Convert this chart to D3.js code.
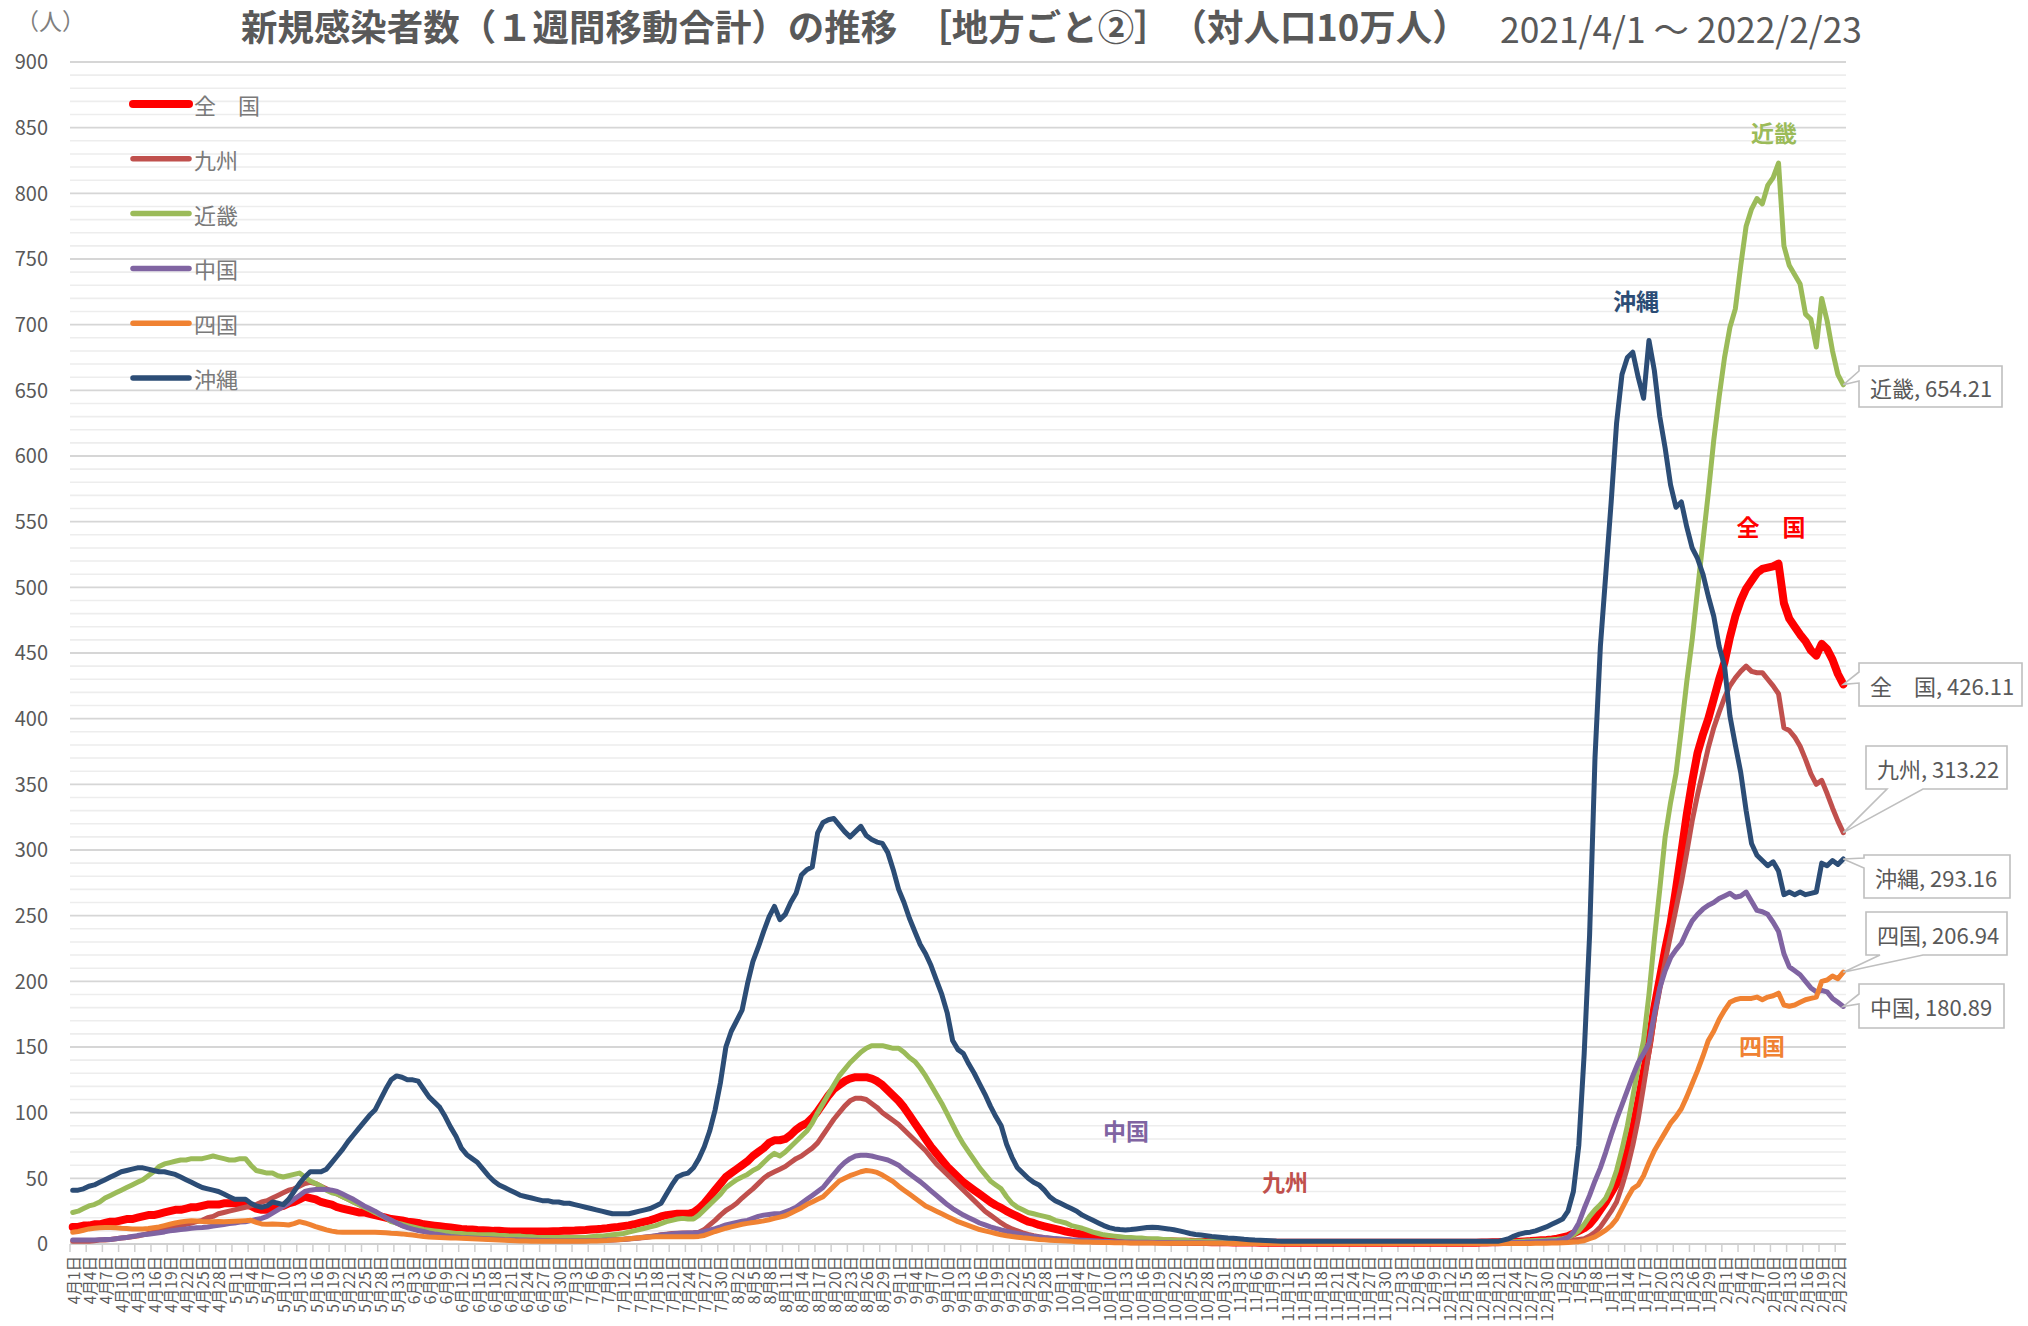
<!DOCTYPE html>
<html><head><meta charset="utf-8">
<script src="https://cdn.jsdelivr.net/npm/d3@7"></script>
<style>
html,body{margin:0;padding:0;background:#fff;}
svg{display:block;font-family:"Noto Sans CJK JP","Noto Sans",sans-serif;}
</style>
</head><body>
<svg id="chart" width="2028" height="1326"></svg>
<script>
// ---------------- DATA ----------------
const startDate = new Date(2021, 3, 1);
const endDate = new Date(2022, 1, 23);
const titleMain = "新規感染者数（１週間移動合計）の推移　［地方ごと②］　（対人口10万人）";
const titleDate = "2021/4/1 〜 2022/2/23";
const unitLabel = "（人）";
const seriesNames = ["全　国", "九州", "近畿", "中国", "四国", "沖縄"];
const yTickValues = [0,50,100,150,200,250,300,350,400,450,500,550,600,650,700,750,800,850,900];

const national = [
 13,13,14,14,15,15,16,17,17,18, 19,19,20,21,22,22,23,24,25,26, 26,27,28,28,29,30,30,30,31,31,
 31,31,30,29,27,26,26,27,28,29, 31,32,34,36,35,34,32,31,30,28, 27,26,25,24,24,23,22,21,20,19, 18.5,
 18,17,16.5,16,15,14.5,14,13.5,13,12.5, 12,11.5,11.2,11,10.7,10.5,10.3,10,10,9.8, 9.6,9.5,9.5,9.5,9.5,9.5,9.5,9.6,9.7,9.8,
 10,10,10.2,10.5,10.7,11,11.3,11.6,12,12.5, 13,13.6,14.2,15,16,17,18,19.5,21,22, 22.5,23,23,23,24,27,31,36,41,46, 51,
 54,57,60,63,67,70,73,77,79,79, 80,83,87,90,92,96,101,107,113,118, 121,124,126,127,127,127,126,124,121,117, 113,
 109,104,98,92,86,80,74,69,64,59, 55,51,47,44,41,38,35,32,29.5,27.5, 25,23,21,19,17,16,14.5,13.5,12.5,11.5,
 10.5,9.5,8.7,8,7.2,6.5,6,5,4.5,4, 3.7,3.4,3.1,2.9,2.7,2.5,2.4,2.3,2.2,2.1, 2,1.9,1.8,1.7,1.7,1.6,1.5,1.5,1.4,1.4, 1.3,
 1.3,1.2,1.2,1.1,1.1,1.1,1,1,1,1, 1,1,1,1,1,1,1,1,1,1, 1,1,1,1,1,1,1,1,1,1,
 1,1,1,1,1,1,1,1,1,1, 1,1,1,1,1,1,1,1.1,1.2,1.3, 1.4,1.5,1.6,1.7,1.8,2,2.2,2.5,2.8,3.1, 3.5,
 4,5,6,8,10,12,15,20,26,32, 39,46,56,70,87,108,130,152,180,202, 224,244,270,298,327,352,374,388,400,415, 430,
 443,462,478,490,499,505,511,514,515,516, 518,488,476,470,464,459,452,448,457,453, 445,434,426.11
];
const kyushu = [
 2,2,2,2,2.5,3,3,3.5,4,4.5, 5,5.5,6,7,8,9,10,11,12,13, 14,15,16,17,18,20,21,23,24,25,
 26,27,28,29,30,32,33,35,37,39, 41,42,44,46,47,46,44,42,40,38, 36,34,32,30,28,26,24,22,20,18, 16,
 14,13,12,11,10,9,8,7.5,7,6.5, 6,5.5,5,4.8,4.5,4.2,4,3.8,3.6,3.4, 3.2,3,3,2.8,2.7,2.6,2.5,2.5,2.5,2.5,
 2.5,2.5,2.5,2.5,2.6,2.7,2.8,2.9,3,3.1, 3.3,3.5,3.8,4.1,4.5,5,5.5,6.2,7,7.5, 8,8.2,8.3,8.4,8.5,9,11,14.5,18,22, 25.5,
 28,31,35,38.5,42,46,50,53,55,57, 59,62,65,67,70,73,77,83,89,95, 100,105,109,111,111,110,107,104,100,97, 94,
 91,87,83,79,75,71,66,61,57,53, 49,45,41,37,33,29,25,22,19,16, 13.5,11.5,10,8.5,7.3,6.3,5.5,4.8,4.2,3.7,
 3.3,3,2.7,2.4,2.2,2,1.8,1.6,1.5,1.4, 1.3,1.2,1.1,1,1,1,0.9,0.9,0.9,0.9, 0.8,0.8,0.8,0.8,0.8,0.8,0.8,0.8,0.8,0.8, 0.8,
 0.7,0.7,0.7,0.7,0.7,0.7,0.7,0.7,0.7,0.7, 0.7,0.7,0.7,0.7,0.7,0.7,0.7,0.7,0.7,0.7, 0.7,0.7,0.7,0.7,0.7,0.7,0.7,0.7,0.7,0.7,
 0.6,0.6,0.6,0.6,0.6,0.6,0.6,0.6,0.6,0.6, 0.6,0.6,0.6,0.6,0.6,0.6,0.6,0.6,0.6,0.6, 0.6,0.7,0.7,0.8,0.9,1,1.1,1.2,1.3,1.4, 1.5,
 1.6,2,2.5,3,3.5,4,6,9,13,19, 25,32,44,58,75,95,120,146,172,194, 215,235,255,275,298,322,342,360,378,393, 405,
 416,425,431,436,440,436,435,435,430,425, 419,393,391,386,379,369,358,350,353,343, 332,322,313.22
];
const kinki = [
 24,25,27,29,30,32,35,37,39,41, 43,45,47,49,52,55,59,61,62,63, 64,64,65,65,65,66,67,66,65,64,
 64,65,65,60,56,55,54,54,52,51, 52,53,54,51,48,46,44,41,39,38, 36,34,32,30,28,26,24,22,20,17, 16,
 15,14,13,12,11,10.5,10,9.5,9,8.5, 8,8,7.5,7.5,7,7,7,7,6.5,6.5, 6,6,6,5.5,5.5,5,5,5,5,5,
 5,5,5,5,5,5.5,6,6,6.5,7, 7.5,8,9,10,11,12,13,14,15.5,17, 18,19,19.5,19,19,22,26,30,34,38, 43,
 46,49,51,53,56,58,62,66,69,67, 70,74,78,82,86,92,100,107,114,121, 128,133,138,142,146,149,151,151,151,150, 149,
 149,146,142,139,134,128,121,114,107,99, 91,83,76,70,64,58,53,48,45,42, 36,31,28,26,24,23,22,21,20,18,
 17,16,14,13,12,10.5,9,8,7,6.5, 6,5.5,5,5,4.5,4.5,4,4,4,3.5, 3.5,3,3,3,2.5,2.5,2.5,2,2,2, 2,
 2,2,1.8,1.8,1.6,1.5,1.5,1.4,1.3,1.2, 1.2,1.1,1,1,1,1,1,1,1,1, 1,1,1,1,1,1,1,1,1,1,
 1,1,1,1,1,1,1,1,1,1, 1,1,1,1,1,1,1,1.2,1.3,1.4, 1.5,1.6,1.7,1.8,2,2.2,2.4,2.6,2.8,3, 3.3,
 3.6,4,5,7,10,15,21,26,30,35, 44,56,72,90,112,135,155,190,232,270, 310,336,358,392,428,460,498,535,572,612, 645,
 675,698,712,745,775,788,796,792,806,812, 823,760,745,738,731,708,704,683,720,703, 680,662,654.21
];
const chugoku = [
 3,3,3,3,3,3.2,3.4,3.5,4,4.5, 5,5.7,6.4,7,7.5,8,8.5,9.2,10,10.5, 11,11.5,12,12.3,12.6,13,13.6,14.2,14.8,15.5,
 16,16.7,17,17.8,18.7,19.5,21,23.5,26,28.5, 31,34,37,40,41,41.5,41.6,41.5,41,40, 38,36,34,31.5,29,27,25,22.5,20,18, 16,
 14,12.5,11.3,10.3,9.5,8.5,7.7,7,6.3,5.8, 5.4,5,4.8,4.6,4.4,4.2,4,3.8,3.6,3.4, 3.3,3.2,3.1,3,2.9,2.8,2.7,2.6,2.5,2.5,
 2.5,2.5,2.5,2.5,2.5,2.6,2.7,2.8,3,3.2, 3.4,3.7,4,4.4,4.8,5.3,5.8,6.3,6.8,7.2, 7.6,8,8.2,8.4,8.5,8.7,9.5,10.5,11.7,13, 14.5,
 15.5,16.5,17.3,18,19.5,21,22,22.5,23,23, 24.5,26,28,31,34,37,40,43,48,53, 58,62,65,67,67.5,67.5,67,66,65,64, 62,
 60,56.5,53.5,50.5,47.5,44,40.5,37,33.5,30, 27,24.5,22,20,18,16,14.5,13,11.8,10.7, 9.7,8.8,8,7.2,6.5,5.9,5.4,4.9,4.5,4.1,
 3.8,3.5,3.2,3,2.8,2.6,2.4,2.2,2,1.9, 1.8,1.7,1.6,1.5,1.4,1.3,1.3,1.2,1.2,1.1, 1.1,1,1,1,0.9,0.9,0.9,0.8,0.8,0.8, 0.8,
 0.8,0.8,0.7,0.7,0.7,0.7,0.6,0.6,0.6,0.6, 0.6,0.6,0.6,0.6,0.6,0.6,0.6,0.6,0.6,0.6, 0.6,0.6,0.6,0.6,0.6,0.6,0.6,0.6,0.6,0.6,
 0.5,0.5,0.5,0.5,0.5,0.5,0.5,0.5,0.5,0.5, 0.5,0.5,0.5,0.5,0.5,0.5,0.5,0.5,0.6,0.7, 0.8,0.9,1,1.1,1.2,1.3,1.5,1.7,1.9,2.1, 2.3,
 2.5,3.5,5,9,16,27,37,48,58,70, 83,95,106,117,128,138,145,153,175,195, 208,218,224,229,238,246,251,255,258,260, 263,
 265,267,264,265,268,261,254,253,251,245, 238,221,211,208,205,200,195,192,193,192, 187,184,180.89
];
const shikoku = [
 9,9.5,10.5,11.5,12,12.3,12.5,12.5,12.3,12, 11.8,11.5,11.4,11.4,11.8,12.4,13,14,15,16, 16.7,17.3,17.7,17.5,17.2,17,17,17.2,17,17.2,
 17.4,17.6,17.8,18,16.5,15.3,15,15.2,15,14.8, 14.5,15.5,17,16,14.7,13.2,12,10.8,9.8,9.2, 9,9,9,9,9,9,9,8.8,8.5,8.2, 8,
 7.7,7.2,6.8,6.2,5.7,5.4,5.2,5,4.8,4.6, 4.5,4.4,4.2,4,3.8,3.6,3.4,3.2,3,2.8, 2.6,2.4,2.3,2.2,2.1,2,2,2,2,2,
 2,2,2,2,2.1,2.2,2.3,2.5,2.7,3, 3.3,3.6,4,4.4,4.8,5.1,5.3,5.5,5.6,5.6, 5.6,5.6,5.6,5.6,5.6,5.8,6.5,8,9.5,10.7, 12,
 13,14,15,15.7,16.3,17,17.6,18.5,19.5,20.5, 21.5,23.5,25.5,27.5,30,32,34,36,40,44, 48,50,52,53.5,55,56,55.5,54.5,52.5,50, 47.5,
 44,41,38,35,32,29,27,25,23,21, 19,17,15.5,14,12.5,11,10,9,8,7, 6.3,5.7,5.2,4.7,4.3,3.9,3.5,3.2,2.9,2.6,
 2.4,2.2,2,1.8,1.6,1.5,1.4,1.3,1.2,1.1, 1,0.9,0.9,0.8,0.8,0.7,0.7,0.7,0.6,0.6, 0.6,0.6,0.5,0.5,0.5,0.5,0.5,0.5,0.5,0.5, 0.5,
 0.4,0.4,0.4,0.4,0.4,0.4,0.4,0.4,0.4,0.4, 0.4,0.4,0.4,0.4,0.4,0.4,0.4,0.4,0.4,0.4, 0.4,0.4,0.4,0.4,0.4,0.4,0.4,0.4,0.4,0.4,
 0.3,0.3,0.3,0.3,0.3,0.3,0.3,0.3,0.3,0.3, 0.3,0.3,0.3,0.3,0.3,0.3,0.3,0.3,0.3,0.3, 0.3,0.3,0.3,0.3,0.3,0.4,0.4,0.5,0.5,0.6, 0.7,
 0.8,1,1.2,1.5,1.8,2.5,4,5.5,8,10.5, 14,19,27,35,42,45,52,62,71,78, 85,92,97,103,112,122,132,143,155,162, 171,
 178,184,186,187,187,187,188,186,188,189, 191,182,181,182,184,186,187,188,200,201, 204,202,206.94
];
const okinawa = [
 41,41,42,44,45,47,49,51,53,55, 56,57,58,58,57,56,55,55,54,53, 51,49,47,45,43,42,41,40,38,36,
 34,34,34,31,29,28,29,32,31,30, 34,40,46,51,55,55,55,57,62,67, 72,78,83,88,93,98,102,110,118,125, 128,
 127,125,125,124,118,112,108,104,97,89, 82,73,68,65,62,57,52,48,45,43, 41,39,37,36,35,34,33,33,32,32,
 31,31,30,29,28,27,26,25,24,23, 23,23,23,24,25,26,27,29,31,38, 45,51,53,54,58,65,74,86,102,123, 150,
 162,170,178,198,215,226,238,249,257,247, 251,260,267,281,285,287,313,321,323,324, 319,314,310,314,318,311,308,306,305,298, 285,
 270,260,248,238,228,221,212,201,190,176, 155,148,145,137,130,122,114,105,97,90, 76,66,58,54,50,47,45,41,36,33,
 31,29,27,25,22,20,18,16,14,12.5, 11.5,11,10.7,11,11.5,12,12.5,12.7,12.5,12, 11.5,10.8,10,9,8,7.3,6.8,6.3,5.8,5.4, 5,
 4.6,4.3,4,3.6,3.3,3,2.8,2.6,2.4,2.2, 2.1,2,2,2,2,2,2,2,2,2, 2,2,2,2,2,2,2,2,2,2,
 2,2,2,2,2,2,2,2,2,2, 2,2,2,2,2,2,2,2,2,2, 2,3,4,6,7.5,8.5,9,10,11.5,13, 15,
 17,19,25,40,75,145,235,370,455,510, 565,625,662,675,679,660,644,688,665,630, 606,578,561,565,546,530,522,510,493,478, 455,
 440,402,380,359,330,305,296,292,288,291, 284,266,268,266,268,266,267,268,290,288, 292,289,293.16
];
const seriesValues = [national, kyushu, kinki, chugoku, shikoku, okinawa];

// ---------------- STYLE / LAYOUT ----------------
const W = 2028, H = 1326;
const plot = {left: 70, right: 1846, top: 62, bottom: 1244};
const colors = ["#FF0000", "#C0504D", "#9BBB59", "#8064A2", "#F08232", "#2C4D76"];
const widths = [8, 5, 5, 5, 5, 5];
const textGray = "#595959";
const legendLayout = {x1: 133, x2: 189, tx: 194, y0: 104, dy: 54.8};
const inlineLabelPos = [[1771,526],[1285,1181],[1774,132],[1126,1130],[1762,1045],[1636,300]];
const calloutLayout = [
 {x0:1859,y0:663,x1:2022,y1:706, edge:"left", a0:672, a1:683},
 {x0:1866,y0:746,x1:2007,y1:789, edge:"bottom", a0:1887, a1:1923},
 {x0:1859,y0:366,x1:2002,y1:407, edge:"left", a0:371, a1:381},
 {x0:1859,y0:984,x1:2004,y1:1028, edge:"left", a0:994, a1:1004},
 {x0:1866,y0:912,x1:2007,y1:955, edge:"bottom", a0:1880, a1:1923},
 {x0:1864,y0:855,x1:2010,y1:898, edge:"left", a0:858, a1:868}
];

// ---------------- DRAW ----------------
const dates = d3.timeDay.range(startDate, d3.timeDay.offset(endDate, 1));
const catLabels = dates.map(d => `${d.getMonth()+1}月${d.getDate()}日`);
const n = dates.length;

const svg = d3.select("#chart");
svg.append("rect").attr("width", W).attr("height", H).attr("fill", "#fff");

const x = d3.scaleBand().domain(d3.range(n)).range([plot.left, plot.right]).paddingInner(0).paddingOuter(0);
const xc = i => x(i) + x.bandwidth() / 2;
const y = d3.scaleLinear().domain([0, 900]).range([plot.bottom, plot.top]);

// minor gridlines
const minor = d3.range(10, 900, 10).filter(v => v % 50 !== 0);
svg.append("g").selectAll("line").data(minor).join("line")
  .attr("x1", plot.left).attr("x2", plot.right)
  .attr("y1", d => y(d)).attr("y2", d => y(d))
  .attr("stroke", "#EDEDED").attr("stroke-width", 1.6);

// major gridlines
svg.append("g").selectAll("line").data(yTickValues.filter(v => v > 0)).join("line")
  .attr("x1", plot.left).attr("x2", plot.right)
  .attr("y1", d => y(d)).attr("y2", d => y(d))
  .attr("stroke", "#D6D6D6").attr("stroke-width", 1.8);

// y axis labels
const yAxis = d3.axisLeft(y).tickValues(yTickValues).tickSize(0).tickPadding(0).tickFormat(d3.format("d"));
const yg = svg.append("g").attr("transform", `translate(${plot.left - 22},0)`).call(yAxis);
yg.select(".domain").remove();
yg.selectAll("text").attr("font-size", 20).attr("fill", textGray)
  .attr("font-family", '"Noto Sans CJK JP","Noto Sans",sans-serif').attr("dy", "0.34em");

// x axis
const tickIdx = d3.range(0, n, 3);
const xAxis = d3.axisBottom(x).tickValues(tickIdx).tickSize(0).tickFormat(i => catLabels[i]);
const xg = svg.append("g").attr("transform", `translate(0,${plot.bottom})`).call(xAxis);
xg.select(".domain").remove();
xg.selectAll("text")
  .attr("font-size", 15.5).attr("fill", textGray)
  .attr("font-family", '"Noto Sans CJK JP","Noto Sans",sans-serif')
  .attr("text-anchor", "end").attr("dominant-baseline", "central")
  .attr("transform", "translate(0,12) rotate(-90)")
  .attr("x", 0).attr("y", 0).attr("dy", null);

// axis line & tick marks
svg.append("line").attr("x1", plot.left).attr("x2", plot.right)
  .attr("y1", plot.bottom).attr("y2", plot.bottom)
  .attr("stroke", "#D0D0D0").attr("stroke-width", 2);
svg.append("g").selectAll("line").data(d3.range(0, n + 1, 3)).join("line")
  .attr("x1", i => x(0) + i * x.step()).attr("x2", i => x(0) + i * x.step())
  .attr("y1", plot.bottom).attr("y2", plot.bottom + 8)
  .attr("stroke", "#D0D0D0").attr("stroke-width", 1.5);

// series lines
const line = d3.line().x((d, i) => xc(i)).y(d => y(d));
const linesG = svg.append("g");
seriesValues.forEach((vals, k) => {
  linesG.append("path").datum(vals)
    .attr("d", line).attr("fill", "none")
    .attr("stroke", colors[k]).attr("stroke-width", widths[k])
    .attr("stroke-linejoin", "round").attr("stroke-linecap", "round");
});

// legend
const lg = svg.append("g");
seriesNames.forEach((name, k) => {
  const yy = legendLayout.y0 + k * legendLayout.dy;
  lg.append("line").attr("x1", legendLayout.x1).attr("x2", legendLayout.x2)
    .attr("y1", yy).attr("y2", yy)
    .attr("stroke", colors[k]).attr("stroke-width", k === 0 ? 8 : 5.5).attr("stroke-linecap", "round");
  lg.append("text").attr("x", legendLayout.tx).attr("y", yy)
    .attr("dominant-baseline", "central").attr("font-size", 22).attr("fill", "#7A7A7A").text(name);
});

// inline series labels
seriesNames.forEach((name, k) => {
  svg.append("text").attr("x", inlineLabelPos[k][0]).attr("y", inlineLabelPos[k][1])
    .attr("text-anchor", "middle").attr("dominant-baseline", "central")
    .attr("font-size", 23).attr("font-weight", "bold").attr("fill", colors[k]).text(name);
});

// callouts at end values
seriesNames.forEach((name, k) => {
  const vals = seriesValues[k];
  const last = vals[vals.length - 1];
  const tx = xc(vals.length - 1), ty = y(last);
  const c = calloutLayout[k];
  let p;
  if (c.edge === "left") {
    p = `M${c.x0},${c.y0}L${c.x1},${c.y0}L${c.x1},${c.y1}L${c.x0},${c.y1}L${c.x0},${c.a1}L${tx},${ty}L${c.x0},${c.a0}Z`;
  } else {
    p = `M${c.x0},${c.y0}L${c.x1},${c.y0}L${c.x1},${c.y1}L${c.a1},${c.y1}L${tx},${ty}L${c.a0},${c.y1}L${c.x0},${c.y1}Z`;
  }
  svg.append("path").attr("d", p).attr("fill", "#fff").attr("stroke", "#BFBFBF").attr("stroke-width", 1.6);
  svg.append("text").attr("x", c.x0 + 11).attr("y", (c.y0 + c.y1) / 2)
    .attr("dominant-baseline", "central").attr("font-size", 22).attr("fill", textGray)
    .text(`${name}, ${d3.format(".2f")(last)}`);
});

// unit label
svg.append("text").attr("x", 16).attr("y", 20).attr("dominant-baseline", "central")
  .attr("font-size", 23).attr("fill", "#7F7F7F").text(unitLabel);

// title
function fit(sel, target) {
  const w = sel.node().getComputedTextLength();
  const fs = parseFloat(sel.attr("font-size"));
  sel.attr("font-size", (fs * target / w).toFixed(2));
}
const t1 = svg.append("text").attr("x", 241).attr("y", 25).attr("dominant-baseline", "central")
  .attr("font-size", 33).attr("font-weight", "bold").attr("fill", textGray).text(titleMain);
fit(t1, 1228);
const t2 = svg.append("text").attr("x", 1500).attr("y", 27).attr("dominant-baseline", "central")
  .attr("font-size", 33).attr("fill", textGray).text(titleDate);
fit(t2, 362);
</script>
</body></html>
